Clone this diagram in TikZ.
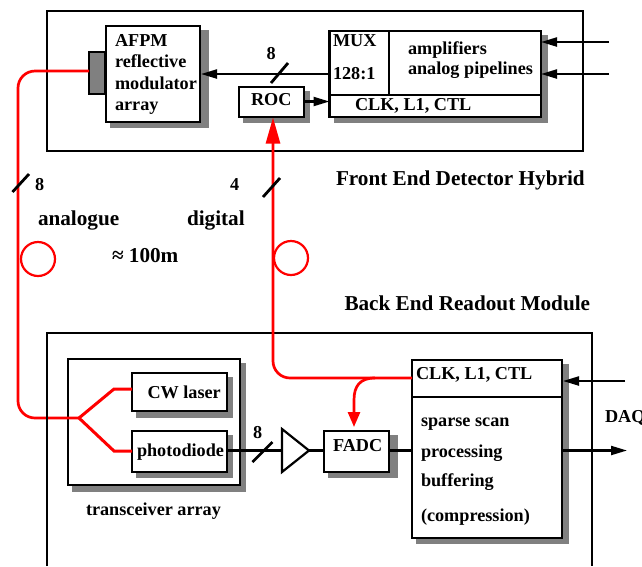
\documentclass[tikz,border=0pt]{standalone}
\usepackage{fontspec}
\setmainfont{Liberation Serif}
\usetikzlibrary{arrows.meta}
\tikzset{
  x=1pt,y=-1pt,
  boxln/.style={draw=black,line width=2.2pt,fill=white,inner sep=0pt,outer sep=0pt},
  frameln/.style={draw=black,line width=2.2pt},
  shade/.style={fill=black!50,draw=none},
  wire/.style={draw=black,line width=2.2pt},
  fibre/.style={draw=red,line width=2.7pt,rounded corners=17pt},
  slash/.style={draw=black,line width=2.8pt},
  ring/.style={draw=red,line width=2.2pt,circle,minimum size=34pt,inner sep=0pt,outer sep=0pt},
  lab/.style={anchor=base west,inner sep=0pt,outer sep=0pt,font=\fontsize{18.2}{20}\selectfont\bfseries},
  big/.style={lab,font=\fontsize{21.2}{24}\selectfont\bfseries},
  blk/.style={-{Triangle[length=16pt,width=9pt]}},
}
\newcommand{\mybox}[7]{%
  \fill[shade] (#2+4,#3+4) rectangle (#6,#7);
  \node[boxln,minimum width=#4-#2,minimum height=#5-#3,anchor=north west] (#1) at (#2,#3) {};
}
\begin{document}
\begin{tikzpicture}
\useasboundingbox (0,0) rectangle (642,566);
\fill[white] (0,0) rectangle (642,566);
% frames
\draw[frameln] (47,11) rectangle (583,151);
\draw[frameln] (47,566) -- (47,333) -- (592,333) -- (592,566);
% top boxes
\mybox{afpm}{106}{26}{200}{122}{209}{128}
\mybox{roc}{239}{87}{304}{117}{310}{123}
\mybox{mux}{329.5}{31}{541}{117}{548}{123}
\node[boxln,fill=black!50,minimum width=16pt,minimum height=42pt,anchor=north west] (mod) at (89,52) {};
\coordinate (muxdiva) at (389,31);
\coordinate (muxdivb) at (389,95);
\coordinate (muxhl) at (329.5,95);
\coordinate (muxhr) at (541,95);
\draw[wire] (muxdiva) -- (muxdivb);
\draw[wire] (muxhl) -- (muxhr);
% lower boxes
\mybox{trans}{68}{359}{240}{485}{246}{492}
\mybox{cw}{132}{373}{227}{411}{233}{418}
\mybox{pd}{132}{431}{227}{472}{233}{478}
\mybox{fadc}{324}{431}{389}{472}{398}{478}
\mybox{proc}{412}{360}{562}{538}{569}{544}
\coordinate (prochl) at (412,397);
\coordinate (prochr) at (562,397);
\draw[wire] (prochl) -- (prochr);
% amplifier
\coordinate (ampa) at (282,429);
\coordinate (ampb) at (282,472);
\coordinate (ampc) at (309,450.5);
\draw[wire,line join=miter] (ampa) -- (ampc) -- (ampb) -- cycle;
% black wires
\coordinate (ina) at (609,42);
\coordinate (inb) at (609,74);
\coordinate (ma) at (541,42);
\coordinate (mb) at (541,74);
\coordinate (ml) at (329.5,74);
\coordinate (al) at (201,74);
\coordinate (rr) at (304,101.5);
\coordinate (mr) at (329.5,101.5);
\coordinate (pdr) at (227,450.5);
\coordinate (ampl) at (282,450.5);
\coordinate (fl) at (324,450.5);
\coordinate (fr) at (389,450.5);
\coordinate (pl) at (412,450.5);
\coordinate (pr) at (562,450.5);
\coordinate (daq) at (627,450.5);
\coordinate (trig) at (625,381);
\coordinate (pt) at (563,381);
\draw[wire,blk] (ina) -- (ma);
\draw[wire,blk] (inb) -- (mb);
\draw[wire,blk] (ml) -- (al);
\draw[wire,blk] (rr) -- (mr);
\draw[wire] (pdr) -- (ampl);
\draw[wire] (ampc) -- (fl);
\draw[wire] (fr) -- (pl);
\draw[wire,blk] (pr) -- (daq);
\draw[wire,blk] (trig) -- (pt);
% red fibres
\coordinate (fa) at (18,71);
\coordinate (fb) at (18,418);
\coordinate (split) at (79,418);
\coordinate (ka) at (114,389);
\coordinate (kb) at (114,451);
\coordinate (cwl) at (132,389);
\coordinate (pdl) at (132,451);
\coordinate (rocb) at (273,117.5);
\coordinate (fc) at (273,378);
\coordinate (pcl) at (412,378);
\coordinate (fd) at (353.5,378);
\coordinate (ft) at (354,427);
\draw[fibre] (mod.west |- fa) -- (fa) -- (fb) -- (split);
\draw[frameln] (47,350) -- (47,470);
\draw[draw=red,line width=3pt,line join=miter] (cwl) -- (ka) -- (split) -- (kb) -- (pdl);
\draw[fibre,-{Triangle[length=26pt,width=14pt]}] (pcl) -- (fc) -- (rocb);
\draw[draw=red,line width=2.7pt,-{Triangle[length=15pt,width=12pt]}] (375,378) .. controls (360,378) and (354,386) .. (354,400) -- (ft);
\node[ring] (r1) at (38,259) {};
\node[ring] (r2) at (291,258) {};
% slashes
\draw[slash] (12.5,192) -- (29,174);
\draw[slash] (263,197) -- (280,178);
\draw[slash] (271,83) -- (288,63);
\draw[slash] (252.5,462) -- (272.5,442);
% labels
\node[lab] (t1) at (115,46) {AFPM};
\node[lab] (t2) at (115,67) {reflective};
\node[lab] (t3) at (115,89) {modulator};
\node[lab] (t4) at (115,110) {array};
\node[lab] (t5) at (251,105) {ROC};
\node[lab] (t6) at (333,46) {MUX};
\node[lab] (t7) at (333,79) {128:1};
\node[lab] (t8) at (408,54) {amplifiers};
\node[lab] (t9) at (408,74) {analog pipelines};
\node[lab] (t10) at (355,110) {CLK, L1, CTL};
\node[lab] (t11) at (266.5,59) {8};
\node[lab] (t12) at (35,190) {8};
\node[lab] (t13) at (230,190) {4};
\node[big] (t14) at (38,225) {analogue};
\node[big] (t15) at (187,225) {digital};
\node[big] (t16) at (112,262) {≈ 100m};
\node[big] (t17) at (336,185) {Front End Detector Hybrid};
\node[big] (t18) at (344.5,310) {Back End Readout Module};
\node[lab] (t19) at (147.5,398) {CW laser};
\node[lab] (t20) at (137,456) {photodiode};
\node[lab] (t21) at (86,515) {transceiver array};
\node[lab] (t22) at (253,438) {8};
\node[lab] (t23) at (333,451) {FADC};
\node[lab] (t24) at (416,379) {CLK, L1, CTL};
\node[lab] (t25) at (421,426) {sparse scan};
\node[lab] (t26) at (421,457) {processing};
\node[lab] (t27) at (421,486) {buffering};
\node[lab] (t28) at (421,521) {(compression)};
\node[lab] (t29) at (605,422) {DAQ};
\end{tikzpicture}
\end{document}
